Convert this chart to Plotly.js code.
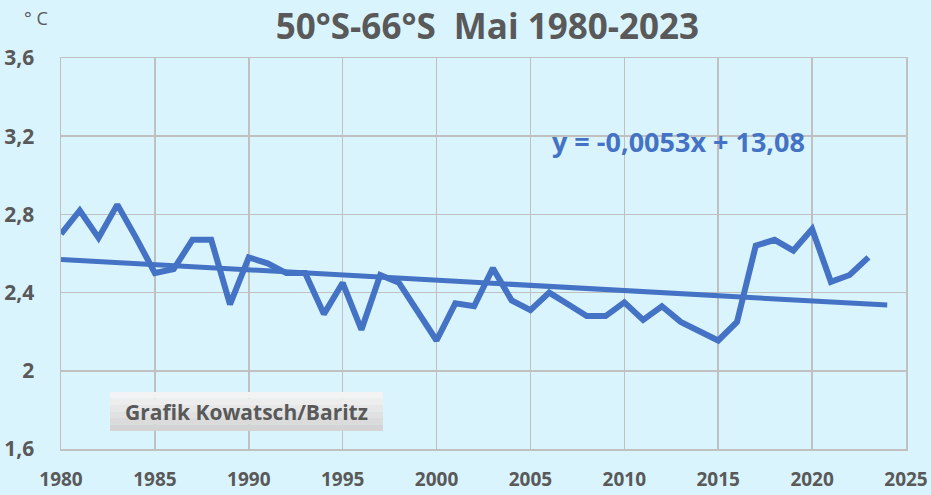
<!DOCTYPE html>
<html>
<head>
<meta charset="utf-8">
<script src="https://cdn.plot.ly/plotly-3.0.1.min.js"></script>
<style>html,body{margin:0;padding:0;background:#DAF4FE;}#chart{width:931px;height:495px;}</style>
</head>
<body>
<div id="chart"></div>
<script>
const years = [1980,1981,1982,1983,1984,1985,1986,1987,1988,1989,1990,1991,1992,1993,1994,1995,1996,1997,1998,1999,2000,2001,2002,2003,2004,2005,2006,2007,2008,2009,2010,2011,2012,2013,2014,2015,2016,2017,2018,2019,2020,2021,2022,2023];
const temps = [2.70,2.82,2.68,2.85,2.68,2.50,2.52,2.67,2.67,2.34,2.58,2.55,2.50,2.50,2.29,2.45,2.21,2.49,2.45,2.30,2.155,2.345,2.33,2.525,2.36,2.31,2.40,2.34,2.28,2.28,2.35,2.26,2.33,2.25,2.20,2.155,2.25,2.64,2.67,2.615,2.725,2.455,2.49,2.58];
const trendYears = [1980, 2024];
const trendLabel = "y = -0,0053x + 13,08";
const titleText = "50°S-66°S  Mai 1980-2023";
const unitText = "° C";
const creditText = "Grafik Kowatsch/Baritz";

// least-squares fit of the data
const n = years.length;
const mx = years.reduce((a,b)=>a+b,0)/n;
const my = temps.reduce((a,b)=>a+b,0)/n;
let sxy=0, sxx=0;
for (let i=0;i<n;i++){ sxy+=(years[i]-mx)*(temps[i]-my); sxx+=(years[i]-mx)**2; }
const slope = sxy/sxx, icpt = my - slope*mx;
const trendVals = trendYears.map(x=>icpt+slope*x);

const blue = '#4472C4';
const grey = '#595959';
const fontFam = '"Open Sans", Lato, sans-serif';

const data = [
  {x: years, y: temps, type:'scatter', mode:'lines', line:{color:blue, width:6}, hoverinfo:'skip'},
  {x: trendYears, y: trendVals, type:'scatter', mode:'lines', line:{color:blue, width:5}, hoverinfo:'skip'}
];

// gradient-looking credit box (stacked strips)
const boxX0 = 0.058, boxX1 = 0.381, boxY0 = 0.046, boxY1 = 0.1458;
const stripCols = ['#F3F3F3','#EDEDED','#E7E7E7','#E1E1E1','#DBDBDB','#D4D4D4'];
const shapes = stripCols.map((c,i)=>({
  type:'rect', xref:'paper', yref:'paper', layer:'above',
  x0:boxX0, x1:boxX1,
  y1: boxY1 - (boxY1-boxY0)*i/stripCols.length,
  y0: boxY1 - (boxY1-boxY0)*(i+1)/stripCols.length,
  fillcolor:c, line:{width:0}
}));

const layout = {
  width:931, height:495,
  paper_bgcolor:'#DAF4FE', plot_bgcolor:'#DAF4FE',
  margin:{l:61, r:25, t:58, b:46},
  showlegend:false,
  separators:',.',
  font:{family:fontFam, color:grey},
  title:{text:'<b>'+titleText+'</b>', x:0.5236, xanchor:'center', y:0.9455, yanchor:'middle', font:{size:35, color:grey, family:fontFam}},
  xaxis:{range:[1980,2025], dtick:5, tick0:1980, showgrid:true, gridcolor:'#C0C0C0', gridwidth:1.5,
         showline:true, linecolor:'#C0C0C0', linewidth:1.5, zeroline:false, ticks:'',
         ticklabelstandoff:13, tickfont:{size:19, color:grey, family:fontFam, weight:'bold'}, mirror:true},
  yaxis:{range:[1.6,3.6], dtick:0.4, tick0:1.6, showgrid:true, gridcolor:'#C0C0C0', gridwidth:1.5,
         showline:true, linecolor:'#C0C0C0', linewidth:1.5, zeroline:false, ticks:'',
         ticklabelstandoff:21, tickfont:{size:21, color:grey, family:fontFam, weight:'bold'}, mirror:true},
  shapes: shapes,
  annotations:[
    {text:'<b>'+trendLabel+'</b>', xref:'x', yref:'y', x:2012.87, y:3.172, xanchor:'center', yanchor:'middle', showarrow:false,
     font:{size:27, color:blue, family:fontFam}},
    {text:unitText, xref:'paper', yref:'paper', x:-0.0296, y:1.102, xanchor:'center', yanchor:'middle', showarrow:false,
     font:{size:18, color:grey, family:fontFam}},
    {text:'<b>'+creditText+'</b>', xref:'paper', yref:'paper', x:(boxX0+boxX1)/2, y:(boxY0+boxY1)/2, xanchor:'center', yanchor:'middle', showarrow:false,
     font:{size:21, color:'#595959', family:fontFam}}
  ]
};

Plotly.newPlot('chart', data, layout, {staticPlot:true, displayModeBar:false});
</script>
</body>
</html>
